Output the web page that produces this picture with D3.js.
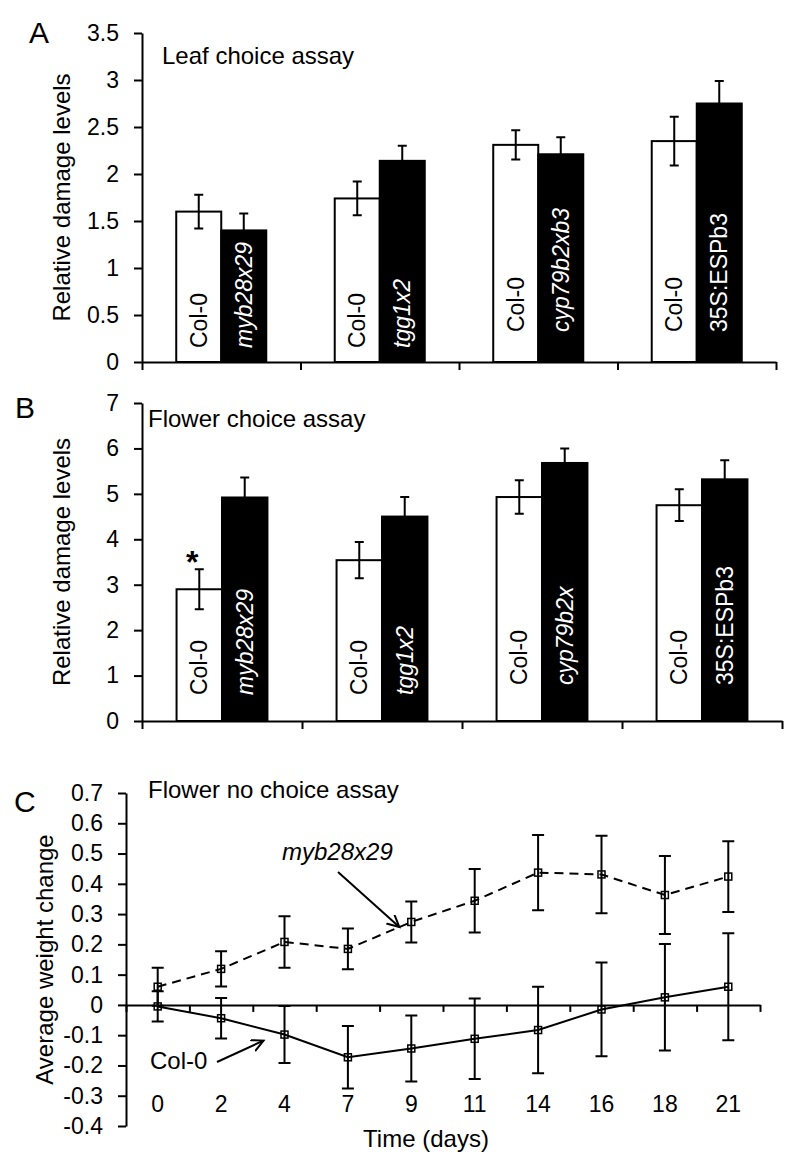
<!DOCTYPE html>
<html>
<head>
<meta charset="utf-8">
<script src="https://cdn.jsdelivr.net/npm/d3@7"></script>
<style>
  body { margin: 0; background: #fff; }
  svg { font-family: "Liberation Sans", Arial, sans-serif; }
</style>
</head>
<body>
<script>
// panel A - leaf choice assay
var groupsA = ["myb28x29", "tgg1x2", "cyp79b2xb3", "35S:ESPb3"];
var colA = [1.60, 1.74, 2.31, 2.35];
var colErrA = [0.18, 0.18, 0.155, 0.26];
var mutA = [1.40, 2.14, 2.21, 2.75];
var mutErrA = [0.18, 0.16, 0.18, 0.24];

// panel B - flower choice assay
var groupsB = ["myb28x29", "tgg1x2", "cyp79b2x", "35S:ESPb3"];
var colB = [2.90, 3.54, 4.93, 4.75];
var colErrB = [0.44, 0.40, 0.37, 0.35];
var mutB = [4.92, 4.50, 5.68, 5.32];
var mutErrB = [0.44, 0.43, 0.32, 0.42];
var signifB = [true, false, false, false];

var italicGroups = [true, true, true, false];

// panel C - flower no choice assay
var days = ["0", "2", "4", "7", "9", "11", "14", "16", "18", "21"];
var myb = [0.060, 0.119, 0.208, 0.185, 0.274, 0.344, 0.437, 0.431, 0.363, 0.424];
var mybErr = [0.063, 0.058, 0.085, 0.067, 0.068, 0.105, 0.124, 0.128, 0.129, 0.117];
var col = [-0.005, -0.044, -0.098, -0.173, -0.144, -0.112, -0.083, -0.015, 0.025, 0.060];
var colErr = [0.050, 0.067, 0.094, 0.103, 0.109, 0.133, 0.143, 0.155, 0.176, 0.177];

var fmt = function(d) { return d3.format(".1~f")(d).replace("\u2212", "-"); };

var svg = d3.select("body").append("svg")
    .attr("width", 800)
    .attr("height", 1166);

function styleAxis(g) {
  g.selectAll("path, line").attr("stroke", "#000").attr("stroke-width", 2);
  g.selectAll("text").attr("fill", "#000").style("font-size", "23px")
    .style("font-family", "'Liberation Sans', Arial, sans-serif");
}

function barPanel(o) {
  var g = svg.append("g");
  var y = d3.scaleLinear().domain([0, o.ymax]).range([o.y0, o.y1]);
  var x = d3.scaleBand().domain(o.groups).range([o.x0, o.x1]).paddingInner(0.432).paddingOuter(0.216);
  var xs = d3.scaleBand().domain(["col", "mut"]).range([0, x.bandwidth()]);
  var edges = d3.scaleLinear().domain([0, o.groups.length]).range([o.x0, o.x1]);

  g.append("g").attr("transform", "translate(" + o.x0 + ",0)")
    .call(d3.axisLeft(y).tickValues(d3.range(0, o.ymax + 1e-9, o.step)).tickFormat(fmt)
      .tickSize(8).tickPadding(15).tickSizeOuter(0))
    .call(styleAxis);
  g.append("g").attr("transform", "translate(0," + o.y0 + ")")
    .call(d3.axisBottom(edges).tickValues(d3.range(0, o.groups.length + 1))
      .tickFormat("").tickSize(8).tickSizeOuter(0))
    .call(styleAxis);

  var rows = [];
  o.groups.forEach(function(gr, i) {
    rows.push({ g: gr, i: i, k: "col", v: o.col[i], e: o.colErr[i], label: "Col-0", italic: false });
    rows.push({ g: gr, i: i, k: "mut", v: o.mut[i], e: o.mutErr[i], label: gr, italic: italicGroups[i] });
  });

  var bars = g.selectAll(".bar").data(rows).enter().append("g")
    .attr("transform", function(d) { return "translate(" + (x(d.g) + xs(d.k)) + ",0)"; });
  var bw = xs.bandwidth();

  bars.append("rect")
    .attr("x", 0).attr("width", bw)
    .attr("y", function(d) { return y(d.v); })
    .attr("height", function(d) { return y(0) - y(d.v); })
    .attr("fill", function(d) { return d.k == "col" ? "#fff" : "#000"; })
    .attr("stroke", "#000").attr("stroke-width", 2);

  var cap = 4.5;
  bars.append("path")
    .attr("d", function(d) {
      var c = bw / 2, t = y(d.v + d.e), b = y(d.v - d.e);
      return "M" + c + "," + t + "V" + b + "M" + (c - cap) + "," + t + "H" + (c + cap) +
             "M" + (c - cap) + "," + b + "H" + (c + cap);
    })
    .attr("stroke", "#000").attr("stroke-width", 2).attr("fill", "none");

  bars.append("text")
    .attr("transform", function(d) { return "translate(" + (bw / 2) + "," + (y(0) - o.lift[d.i]) + ") rotate(-90)"; })
    .attr("dy", "0.35em")
    .attr("fill", function(d) { return d.k == "col" ? "#000" : "#fff"; })
    .style("font-size", "23px")
    .style("font-style", function(d) { return d.italic ? "italic" : "normal"; })
    .text(function(d) { return d.label; });

  if (o.signif) {
    bars.filter(function(d) { return d.k == "col" && o.signif[d.i]; })
      .append("text")
      .attr("x", bw / 2 - 7)
      .attr("y", function(d) { return y(d.v + d.e) + 4; })
      .attr("text-anchor", "middle")
      .style("font-size", "32px").style("font-weight", "bold")
      .text("*");
  }

  g.append("text").attr("x", o.titleX).attr("y", o.titleY)
    .style("font-size", "24px").text(o.title);
  g.append("text").attr("x", o.letterX).attr("y", o.letterY)
    .style("font-size", "30px").text(o.letter);
  g.append("text")
    .attr("transform", "translate(70," + ((o.y0 + o.y1) / 2) + ") rotate(-90)")
    .attr("text-anchor", "middle")
    .style("font-size", "24px")
    .text("Relative damage levels");
}

barPanel({
  groups: groupsA, col: colA, colErr: colErrA, mut: mutA, mutErr: mutErrA,
  ymax: 3.5, step: 0.5, y0: 362, y1: 33, x0: 142, x1: 776,
  lift: [14, 14, 30, 30],
  title: "Leaf choice assay", titleX: 162, titleY: 64,
  letter: "A", letterX: 29, letterY: 43
});

barPanel({
  groups: groupsB, col: colB, colErr: colErrB, mut: mutB, mutErr: mutErrB, signif: signifB,
  ymax: 7, step: 1, y0: 721, y1: 403, x0: 142, x1: 782,
  lift: [26, 26, 36, 36],
  title: "Flower choice assay", titleX: 148, titleY: 427,
  letter: "B", letterX: 15, letterY: 418
});

// panel C
var gc = svg.append("g");
var xc = d3.scalePoint().domain(days).range([126, 760]).padding(0.5);
var yc = d3.scaleLinear().domain([-0.4, 0.7]).range([1126, 793]);
var edgesC = d3.scaleLinear().domain([0, days.length]).range([126, 760]);

gc.append("g").attr("transform", "translate(126,0)")
  .call(d3.axisLeft(yc).tickValues(d3.range(-4, 8).map(function(d) { return d / 10; }))
    .tickFormat(fmt).tickSize(8).tickPadding(15).tickSizeOuter(0))
  .call(styleAxis);
gc.append("g").attr("transform", "translate(0," + yc(0) + ")")
  .call(d3.axisBottom(edgesC).tickValues(d3.range(0, days.length + 1))
    .tickFormat("").tickSize(7).tickSizeOuter(0))
  .call(styleAxis);

gc.selectAll(".daylab").data(days).enter().append("text")
  .attr("x", function(d) { return xc(d); })
  .attr("y", 1112)
  .attr("text-anchor", "middle")
  .style("font-size", "23px")
  .text(function(d) { return d; });

gc.append("text").attr("x", 426).attr("y", 1147).attr("text-anchor", "middle")
  .style("font-size", "24px").text("Time (days)");
gc.append("text")
  .attr("transform", "translate(53," + ((793 + 1126) / 2) + ") rotate(-90)")
  .attr("text-anchor", "middle")
  .style("font-size", "24px")
  .text("Average weight change");
gc.append("text").attr("x", 148).attr("y", 798).style("font-size", "24px").text("Flower no choice assay");
gc.append("text").attr("x", 14).attr("y", 812).style("font-size", "30px").text("C");

function series(vals, errs, dash) {
  var pts = days.map(function(d, i) { return { d: d, v: vals[i], e: errs[i] }; });
  var line = d3.line().x(function(p) { return xc(p.d); }).y(function(p) { return yc(p.v); });
  var s = gc.append("g");
  s.append("path").datum(pts).attr("d", line)
    .attr("fill", "none").attr("stroke", "#000").attr("stroke-width", 2)
    .attr("stroke-dasharray", dash);
  var cap = 6;
  s.selectAll(".eb").data(pts).enter().append("path")
    .attr("d", function(p) {
      var c = xc(p.d), t = yc(p.v + p.e), b = yc(p.v - p.e);
      return "M" + c + "," + t + "V" + b + "M" + (c - cap) + "," + t + "H" + (c + cap) +
             "M" + (c - cap) + "," + b + "H" + (c + cap);
    })
    .attr("stroke", "#000").attr("stroke-width", 2).attr("fill", "none");
  s.selectAll(".pt").data(pts).enter().append("rect")
    .attr("x", function(p) { return xc(p.d) - 3.5; })
    .attr("y", function(p) { return yc(p.v) - 3.5; })
    .attr("width", 7).attr("height", 7)
    .attr("fill", "none").attr("stroke", "#000").attr("stroke-width", 1.5);
}

series(myb, mybErr, "9,6");
series(col, colErr, null);

// annotations
svg.append("defs").append("marker")
  .attr("id", "arr").attr("markerUnits", "userSpaceOnUse")
  .attr("markerWidth", 16).attr("markerHeight", 16)
  .attr("refX", 12).attr("refY", 6).attr("orient", "auto")
  .append("path").attr("d", "M0,0L12,6L0,12")
  .attr("fill", "none").attr("stroke", "#000").attr("stroke-width", 2);

gc.append("text").attr("x", 282).attr("y", 860)
  .style("font-size", "24px").style("font-style", "italic").text("myb28x29");
gc.append("line")
  .attr("x1", 338).attr("y1", 872)
  .attr("x2", xc(days[4]) - 12).attr("y2", yc(myb[4]) + 5)
  .attr("stroke", "#000").attr("stroke-width", 2).attr("marker-end", "url(#arr)");

gc.append("text").attr("x", 150).attr("y", 1069)
  .style("font-size", "24px").text("Col-0");
gc.append("line")
  .attr("x1", 217).attr("y1", 1062)
  .attr("x2", xc(days[2]) - 21).attr("y2", yc(col[2]) + 6)
  .attr("stroke", "#000").attr("stroke-width", 2).attr("marker-end", "url(#arr)");
</script>
</body>
</html>
